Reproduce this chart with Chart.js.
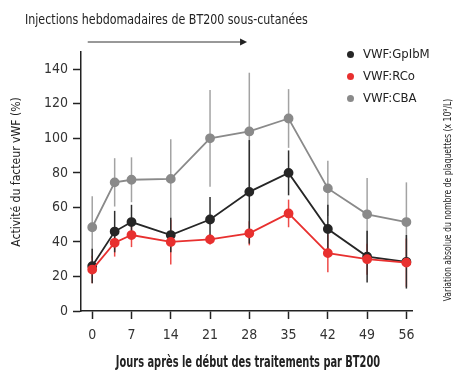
<!DOCTYPE html>
<html>
<head>
<meta charset="utf-8">
<script src="https://cdn.jsdelivr.net/npm/chart.js@4.4.1/dist/chart.umd.min.js"></script>
<style>
  html, body { margin: 0; padding: 0; background: #fff; }
  #wrap { position: relative; width: 457px; height: 376px; }
  #legend { position: absolute; left: 345px; top: 45px; font-family: 'Liberation Sans Narrow', 'DejaVu Sans Condensed', sans-serif; font-size: 13px; color: #222; }
  #legend div { height: 22px; line-height: 18px; white-space: nowrap; }
  #legend span { display: inline-block; width: 7px; height: 7px; border-radius: 50%; margin: 0 9px 1px 2px; vertical-align: middle; }
</style>
</head>
<body>
<div id="wrap">
  <canvas id="chart" width="457" height="376"></canvas>
  <div id="legend"></div>
</div>
<script>
// Data
// -----------------------------------
var days = [0, 4, 7, 14, 21, 28, 35, 42, 49, 56];
var dayTicks = [0, 7, 14, 21, 28, 35, 42, 49, 56];
var yTicks = [0, 20, 40, 60, 80, 100, 120, 140];

var gpibm = [26, 46, 51.5, 44, 53, 69, 80, 47.5, 31.5, 28.5];
var gpibmErr = [10, 12, 10, 10, 13, 30, 13, 14, 15, 15.5];

var rco = [24, 39.5, 44, 40, 41.5, 45, 56.5, 33.5, 30, 28];
var rcoErr = [8, 8, 7, 13, 3, 7, 8, 11, 9, 14];

var cba = [48.5, 74.5, 76, 76.5, 100, 104, 111.5, 71, 56, 51.5];
var cbaErr = [18, 14, 13, 23, 28, 34, 17, 16, 21, 23];

var FONT = "'Liberation Sans Narrow', 'DejaVu Sans Condensed', sans-serif";

function pts(vals) {
    return vals.map(function(v, i) { return { x: days[i], y: v }; });
}

function serie(label, vals, err, color, barColor, order) {
    return {
        label: label,
        data: pts(vals),
        err: err,
        barColor: barColor,
        borderColor: color,
        backgroundColor: color,
        pointBackgroundColor: color,
        pointBorderColor: color,
        pointRadius: 4,
        borderWidth: 1.8,
        order: order
    };
}

// text squeezed horizontally to get the condensed look of the original
function label(ctx, text, x, y, font, sx, rot) {
    ctx.save();
    ctx.translate(x, y);
    if (rot) ctx.rotate(rot);
    ctx.scale(sx, 1);
    ctx.font = font;
    ctx.fillText(text, 0, 0);
    ctx.restore();
}

// error bars + extra texts
var decor = {
    id: 'decor',
    beforeDatasetsDraw: function(chart) {
        var ctx = chart.ctx, x = chart.scales.x, y = chart.scales.y;
        ctx.save();
        chart.data.datasets.slice().reverse().forEach(function(ds) {
            ctx.strokeStyle = ds.barColor;
            ctx.lineWidth = 1.5;
            ds.data.forEach(function(p, i) {
                var px = x.getPixelForValue(p.x);
                ctx.beginPath();
                ctx.moveTo(px, y.getPixelForValue(p.y - ds.err[i]));
                ctx.lineTo(px, y.getPixelForValue(p.y + ds.err[i]));
                ctx.stroke();
            });
        });
        ctx.restore();
    },
    afterDraw: function(chart) {
        var ctx = chart.ctx, x = chart.scales.x;
        ctx.save();
        ctx.fillStyle = '#222';
        ctx.textBaseline = 'middle';

        // top label
        ctx.textAlign = 'left';
        label(ctx, 'Injections hebdomadaires de BT200 sous-cutanées', 25, 20, '500 14px ' + FONT, 0.88);

        // arrow over the injection weeks
        var ax0 = x.getPixelForValue(-0.8), ax1 = x.getPixelForValue(27.6), ay = 42;
        ctx.strokeStyle = '#333';
        ctx.lineWidth = 1;
        ctx.beginPath();
        ctx.moveTo(ax0, ay);
        ctx.lineTo(ax1 - 5, ay);
        ctx.stroke();
        ctx.beginPath();
        ctx.moveTo(ax1, ay);
        ctx.lineTo(ax1 - 7, ay - 3.5);
        ctx.lineTo(ax1 - 7, ay + 3.5);
        ctx.closePath();
        ctx.fill();

        ctx.textAlign = 'center';
        label(ctx, 'Jours après le début des traitements par BT200', 248, 363, 'bold 15px ' + FONT, 0.73);
        label(ctx, 'Activité du facteur vWF (%)', 17, 172, '13px ' + FONT, 0.93, -Math.PI / 2);
        label(ctx, 'Variation absolue du nombre de plaquettes (x 10\u2079/L)', 448, 200, '10px ' + FONT, 0.86, -Math.PI / 2);
        ctx.restore();
    }
};

var axisCommon = {
    grid: { drawOnChartArea: false, drawTicks: true, tickLength: 8, tickColor: '#222', tickWidth: 1.5 },
    border: { color: '#222', width: 1.5 },
    ticks: { color: '#333', font: { family: FONT, size: 14 } }
};

var chart = new Chart(document.getElementById('chart'), {
    type: 'line',
    data: {
        datasets: [
            serie('VWF:GpIbM', gpibm, gpibmErr, '#262626', '#2e2e2e', 1),
            serie('VWF:RCo', rco, rcoErr, '#e8302f', '#ee4a48', 0),
            serie('VWF:CBA', cba, cbaErr, '#8a8a8a', '#a3a3a3', 2)
        ]
    },
    options: {
        responsive: false,
        animation: false,
        layout: { padding: { left: 0, top: 52, right: 45, bottom: 0 } },
        plugins: { legend: { display: false }, tooltip: { enabled: false } },
        scales: {
            x: {
                type: 'linear', min: -2, max: 57,
                grid: axisCommon.grid, border: axisCommon.border,
                ticks: Object.assign({ padding: 8, maxRotation: 0 }, axisCommon.ticks),
                afterBuildTicks: function(s) { s.ticks = dayTicks.map(function(v) { return { value: v }; }); },
                afterFit: function(s) { s.height = 65; }
            },
            y: {
                min: 0, max: 150,
                grid: axisCommon.grid, border: axisCommon.border,
                ticks: Object.assign({ padding: 5 }, axisCommon.ticks),
                afterBuildTicks: function(s) { s.ticks = yTicks.map(function(v) { return { value: v }; }); },
                afterFit: function(s) { s.width = 81; }
            }
        }
    },
    plugins: [decor]
});

// legend, same order as the figure
var legend = document.getElementById('legend');
chart.data.datasets.forEach(function(ds) {
    var row = document.createElement('div');
    row.innerHTML = '<span style="background:' + ds.borderColor + '"></span>' + ds.label;
    legend.appendChild(row);
});
</script>
</body>
</html>
